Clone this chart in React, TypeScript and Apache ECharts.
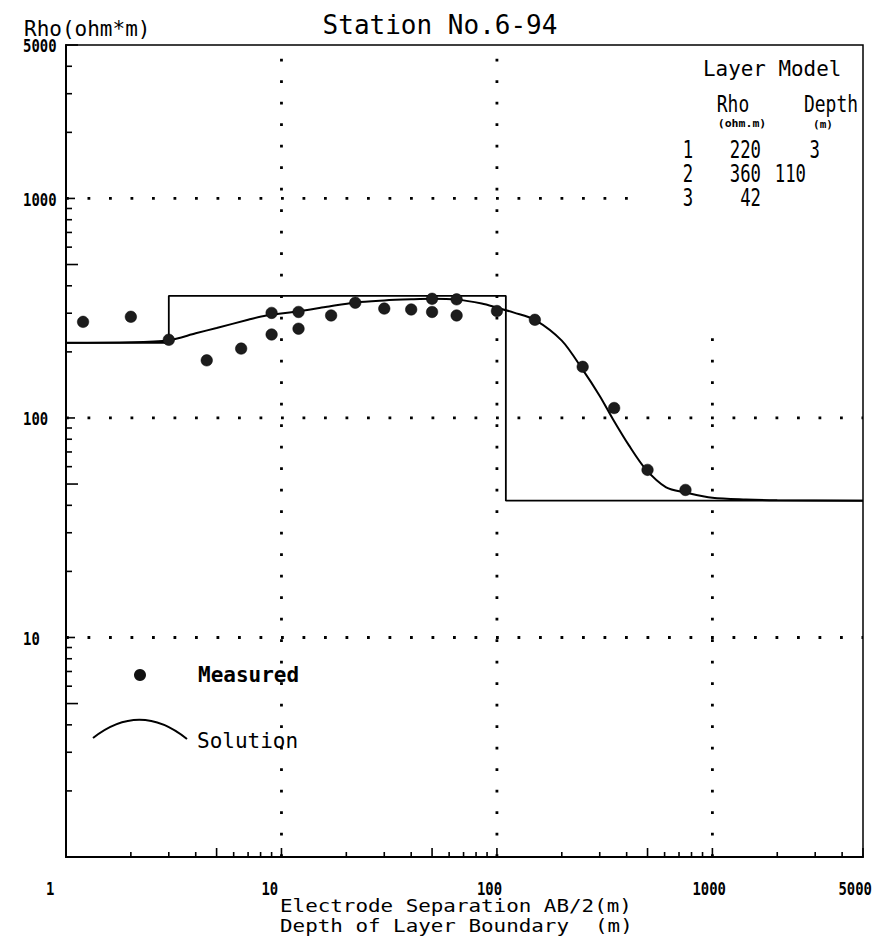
import React, { useEffect, useRef } from "react";
import * as echarts from "echarts";

// ---------- data ----------
const measuredAB2 = [1.2, 2, 3, 4.5, 6.5, 9, 9, 12, 12, 17, 22, 30, 40, 50, 50, 65, 65, 100, 150, 250, 350, 500, 750];
const measuredRho = [274, 289, 227, 183, 207, 240, 301, 255, 304, 293, 335, 315, 312, 349, 304, 347, 293, 307, 280, 171, 111, 58, 47];

const solutionAB2 = [1, 2, 3, 4, 5, 7, 8.5, 12, 16, 22, 30, 40, 50, 65, 85, 100, 120, 150, 200, 250, 300, 345, 410, 490, 610, 750, 1000, 1430, 2000, 5000];
const solutionRho = [220, 221, 226, 243, 257, 280, 293, 306, 320, 336, 343, 347, 349, 346, 332, 318, 302, 280, 225, 166, 126, 99, 75, 58.5, 48.3, 45.8, 43.3, 42.5, 42.2, 42];

const layerIndex = ["1", "2", "3"];
const layerRho = [220, 360, 42];
const layerDepth = [3, 110];

const xTickLabelValues = [1, 10, 100, 1000, 5000];
const xTickLabels = ["1", "10", "100", "1000", "5000"];
const yTickLabelValues = [10, 100, 1000, 5000];
const yTickLabels = ["10", "100", "1000", "5000"];
const decadeValues = [1, 10, 100, 1000];
const minorMultipliers = [2, 3, 4, 5, 6, 7, 8, 9];

const AXIS_MIN = 1;
const AXIS_MAX = 5000;

// dotted grid segments: [axis, value, from, to]
const gridSegments: [string, number, number, number][] = [
  ["x", 10, 1, 5000],
  ["x", 100, 1, 5000],
  ["x", 1000, 1, 280],
  ["y", 10, 1, 5000],
  ["y", 100, 1, 5000],
  ["y", 1000, 1, 420],
];

// ---------- layout constants ----------
const MONO = "'DejaVu Sans Mono', 'Liberation Mono', monospace";
const depthRightX = [820, 806];

function buildTicks() {
  const ticks: { axis: string; v: number; len: number }[] = [];
  for (const d of decadeValues) {
    for (const m of minorMultipliers) {
      const v = d * m;
      if (v > AXIS_MAX) continue;
      ticks.push({ axis: "x", v, len: m === 5 ? 9 : 5 });
      ticks.push({ axis: "y", v, len: m === 5 ? 12 : 6 });
    }
    if (d > 1) {
      ticks.push({ axis: "x", v: d, len: 9 });
      ticks.push({ axis: "y", v: d, len: 9 });
    }
  }
  return ticks;
}

function txt(text: string, x: number, y: number, o: any = {}) {
  return {
    type: "text",
    x,
    y,
    scaleX: o.scaleX ?? 1,
    scaleY: o.scaleY ?? 1,
    z: 100,
    style: {
      text,
      fill: "#000",
      fontFamily: o.fontFamily ?? MONO,
      fontSize: o.fontSize ?? 21,
      fontWeight: o.fontWeight ?? "normal",
      textAlign: o.align ?? "left",
      align: o.align ?? "left",
      textVerticalAlign: "middle",
      verticalAlign: "middle",
    },
  };
}

export default function App() {
  const ref = useRef<HTMLDivElement>(null);

  useEffect(() => {
    if (!ref.current) return;
    const chart = echarts.init(ref.current, null, { renderer: "svg" });

    const ticks = buildTicks();
    const labelItems = [
      ...xTickLabelValues.map((v, i) => ({ axis: "x", v, text: xTickLabels[i] })),
      ...yTickLabelValues.map((v, i) => ({ axis: "y", v, text: yTickLabels[i] })),
    ];

    const layerSteps: number[][] = [];
    layerRho.forEach((r, i) => {
      const from = i === 0 ? AXIS_MIN : layerDepth[i - 1];
      const to = i < layerDepth.length ? layerDepth[i] : AXIS_MAX;
      layerSteps.push([from, r]);
      layerSteps.push([to, r]);
    });

    const tableGraphics: any[] = [
      txt("Layer Model", 703, 68, { fontSize: 22, scaleX: 0.95 }),
      txt("Rho", 733, 104, { fontSize: 23, scaleX: 0.78, align: "center" }),
      txt("Depth", 858, 104, { fontSize: 23, scaleX: 0.78, align: "right" }),
      txt("(ohm.m)", 742, 124, { fontSize: 11, fontWeight: "bold", scaleX: 1.05, align: "center" }),
      txt("(m)", 823, 124, { fontSize: 11, fontWeight: "bold", align: "center" }),
    ];
    const rowY = [150, 174, 198];
    layerIndex.forEach((idx, i) => {
      tableGraphics.push(txt(idx, 688, rowY[i], { fontSize: 24, scaleX: 0.72, align: "center" }));
      tableGraphics.push(txt(String(layerRho[i]), 761, rowY[i], { fontSize: 24, scaleX: 0.72, align: "right" }));
      if (i < layerDepth.length) {
        tableGraphics.push(txt(String(layerDepth[i]), depthRightX[i], rowY[i], { fontSize: 24, scaleX: 0.72, align: "right" }));
      }
    });

    const option: any = {
      animation: false,
      backgroundColor: "#fff",
      grid: {
        left: 66,
        right: 12,
        top: 45,
        bottom: 83,
        show: true,
        borderColor: "#000",
        borderWidth: 1.5,
        backgroundColor: "transparent",
      },
      xAxis: {
        type: "log",
        logBase: 10,
        min: AXIS_MIN,
        max: AXIS_MAX,
        axisLine: { show: true, onZero: false, lineStyle: { color: "#000", width: 2 } },
        axisTick: { show: false },
        axisLabel: { show: false },
        splitLine: { show: false },
      },
      yAxis: {
        type: "log",
        logBase: 10,
        min: AXIS_MIN,
        max: AXIS_MAX,
        axisLine: { show: true, onZero: false, lineStyle: { color: "#000", width: 2 } },
        axisTick: { show: false },
        axisLabel: { show: false },
        splitLine: { show: false },
      },
      graphic: [
        txt("Station No.6-94", 440, 25, { fontSize: 26, align: "center" }),
        txt("Rho(ohm*m)", 24, 29, { fontSize: 21 }),
        txt("Electrode Separation AB/2(m)", 280, 906, { fontSize: 18, scaleX: 1.16 }),
        txt("Depth of Layer Boundary", 280, 926, { fontSize: 18, scaleX: 1.16 }),
        txt("(m)", 595, 926, { fontSize: 18, scaleX: 1.16 }),
        ...tableGraphics,
        {
          type: "circle",
          shape: { cx: 140, cy: 675, r: 6 },
          style: { fill: "#111" },
          z: 100,
        },
        txt("Measured", 198, 675, { fontSize: 21, fontWeight: "bold" }),
        {
          type: "bezierCurve",
          shape: { x1: 93, y1: 738, x2: 187, y2: 739, cpx1: 140, cpy1: 701 },
          style: { stroke: "#000", lineWidth: 2, fill: null },
          z: 100,
        },
        txt("Solution", 197, 741, { fontSize: 21 }),
      ],
      series: [
        {
          name: "grid",
          type: "custom",
          clip: false,
          silent: true,
          z: 1,
          data: gridSegments.map((g) => [g[1], g[1]]),
          renderItem: (params: any, api: any) => {
            const g = gridSegments[params.dataIndex];
            const p1 = g[0] === "x" ? api.coord([g[1], g[2]]) : api.coord([g[2], g[1]]);
            const p2 = g[0] === "x" ? api.coord([g[1], g[3]]) : api.coord([g[3], g[1]]);
            return {
              type: "line",
              shape: { x1: p1[0], y1: p1[1], x2: p2[0], y2: p2[1] },
              style: { stroke: "#000", lineWidth: 2.8, lineDash: [2.8, 18.7], lineCap: "butt" },
            };
          },
        },
        {
          name: "ticks",
          type: "custom",
          clip: false,
          silent: true,
          z: 2,
          data: ticks.map((t) => (t.axis === "x" ? [t.v, AXIS_MIN] : [AXIS_MIN, t.v])),
          renderItem: (params: any, api: any) => {
            const t = ticks[params.dataIndex];
            if (t.axis === "x") {
              const p = api.coord([t.v, AXIS_MIN]);
              return {
                type: "line",
                shape: { x1: p[0], y1: p[1], x2: p[0], y2: p[1] - t.len },
                style: { stroke: "#000", lineWidth: 1.6 },
              };
            }
            const p = api.coord([AXIS_MIN, t.v]);
            return {
              type: "line",
              shape: { x1: p[0], y1: p[1], x2: p[0] + t.len, y2: p[1] },
              style: { stroke: "#000", lineWidth: 1.6 },
            };
          },
        },
        {
          name: "tickLabels",
          type: "custom",
          clip: false,
          silent: true,
          z: 3,
          data: labelItems.map((t) => (t.axis === "x" ? [t.v, AXIS_MIN] : [AXIS_MIN, t.v])),
          renderItem: (params: any, api: any) => {
            const t = labelItems[params.dataIndex];
            const p = t.axis === "x" ? api.coord([t.v, AXIS_MIN]) : api.coord([AXIS_MIN, t.v]);
            const atRightEdge = t.axis === "x" && t.v === AXIS_MAX;
            const x = t.axis === "x" ? (atRightEdge ? 872 : p[0] - 20) : 23;
            const y = t.axis === "x" ? p[1] + 33 : p[1] + 2;
            const align = atRightEdge ? "right" : "left";
            return {
              type: "text",
              x,
              y,
              scaleX: 0.82,
              style: {
                text: t.text,
                fill: "#000",
                fontFamily: MONO,
                fontSize: 17,
                fontWeight: "bold",
                textAlign: align,
                align: align,
                textVerticalAlign: "middle",
                verticalAlign: "middle",
              },
            };
          },
        },
        {
          name: "Layer Model",
          type: "line",
          data: layerSteps,
          symbol: "none",
          z: 4,
          lineStyle: { color: "#000", width: 1.8 },
        },
        {
          name: "Solution",
          type: "line",
          data: solutionAB2.map((x, i) => [x, solutionRho[i]]),
          symbol: "none",
          smooth: 0.3,
          z: 5,
          lineStyle: { color: "#000", width: 2 },
        },
        {
          name: "Measured",
          type: "scatter",
          data: measuredAB2.map((x, i) => [x, measuredRho[i]]),
          symbol: "circle",
          symbolSize: 11.5,
          z: 6,
          itemStyle: { color: "#1c1c1c", borderColor: "#000", borderWidth: 0.5, opacity: 1 },
        },
      ],
    };

    chart.setOption(option);
    return () => chart.dispose();
  }, []);

  return (
    <div
      ref={ref}
      style={{ position: "fixed", left: 0, top: 0, width: 875, height: 940, background: "#fff" }}
    />
  );
}
